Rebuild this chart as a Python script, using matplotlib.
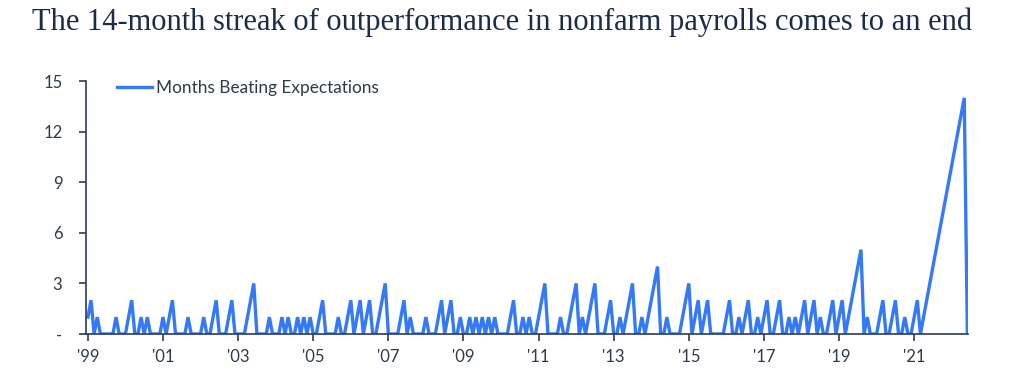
import matplotlib
matplotlib.use("Agg")
import matplotlib.pyplot as plt
import numpy as np

title = "The 14-month streak of outperformance in nonfarm payrolls comes to an end"
series_name = "Months Beating Expectations"

# Consecutive months beating expectations, monthly from Jan 1999 (one row per year)
y1999 = [1, 2, 0, 1, 0, 0, 0, 0, 0, 1, 0, 0]
y2000 = [0, 1, 2, 0, 0, 1, 0, 1, 0, 0, 0, 0]
y2001 = [1, 0, 1, 2, 0, 0, 0, 0, 1, 0, 0, 0]
y2002 = [0, 1, 0, 0, 1, 2, 0, 0, 0, 1, 2, 0]
y2003 = [0, 0, 0, 1, 2, 3, 0, 0, 0, 0, 1, 0]
y2004 = [0, 0, 1, 0, 1, 0, 0, 1, 0, 1, 0, 1]
y2005 = [0, 0, 1, 2, 0, 0, 0, 0, 1, 0, 0, 1]
y2006 = [2, 0, 1, 2, 0, 1, 2, 0, 0, 1, 2, 3]
y2007 = [0, 0, 0, 0, 1, 2, 0, 1, 0, 0, 0, 0]
y2008 = [1, 0, 0, 0, 1, 2, 0, 1, 2, 0, 0, 1]
y2009 = [0, 0, 1, 0, 1, 0, 1, 0, 1, 0, 1, 0]
y2010 = [0, 0, 0, 1, 2, 0, 0, 1, 0, 1, 0, 0]
y2011 = [1, 2, 3, 0, 0, 0, 0, 1, 0, 0, 1, 2]
y2012 = [3, 0, 1, 0, 1, 2, 3, 0, 0, 0, 1, 2]
y2013 = [0, 0, 1, 0, 1, 2, 3, 0, 0, 1, 0, 1]
y2014 = [2, 3, 4, 0, 0, 1, 0, 0, 0, 0, 1, 2]
y2015 = [3, 0, 1, 2, 0, 1, 2, 0, 0, 0, 0, 0]
y2016 = [1, 2, 0, 0, 1, 0, 1, 2, 0, 0, 1, 0]
y2017 = [1, 2, 0, 0, 1, 2, 0, 0, 1, 0, 1, 0]
y2018 = [1, 2, 0, 1, 2, 0, 1, 0, 0, 1, 2, 0]
y2019 = [1, 2, 0, 1, 2, 3, 4, 5, 0, 1, 0, 0]
y2020 = [0, 1, 2, 0, 0, 1, 2, 0, 0, 1, 0, 0]
y2021 = [1, 2, 0, 1, 2, 3, 4, 5, 6, 7, 8, 9]
y2022 = [10, 11, 12, 13, 14, 0]

years = [y1999, y2000, y2001, y2002, y2003, y2004, y2005, y2006, y2007, y2008,
         y2009, y2010, y2011, y2012, y2013, y2014, y2015, y2016, y2017, y2018,
         y2019, y2020, y2021, y2022]
values = [v for yr in years for v in yr]
months = np.arange(len(values))

tick_years = [1999, 2001, 2003, 2005, 2007, 2009, 2011, 2013, 2015, 2017, 2019, 2021]
tick_labels = ["'99", "'01", "'03", "'05", "'07", "'09", "'11", "'13", "'15", "'17", "'19", "'21"]
y_ticks = [0, 3, 6, 9, 12, 15]
y_labels = ["-", "3", "6", "9", "12", "15"]

line_color = "#3479F7"
axis_color = "#2d3b55"
text_color = "#2f3a4d"

fig = plt.figure(figsize=(10.24, 3.8), dpi=100)
ax = fig.add_axes([86 / 1024, 1 - 334 / 380, (968 - 86) / 1024, (334 - 81) / 380])

ax.plot(months, values, color=line_color, lw=2.4, solid_joinstyle="miter",
        label=series_name)

ax.set_xlim(-0.6, len(values) - 0.8)
ax.set_ylim(0, 15)
ax.set_xticks([12 * (y - 1999) for y in tick_years])
ax.set_xticklabels(tick_labels)
ax.set_yticks(y_ticks)
ax.set_yticklabels(y_labels)

for s in ["top", "right"]:
    ax.spines[s].set_visible(False)
for s in ["left", "bottom"]:
    ax.spines[s].set_color(axis_color)
    ax.spines[s].set_linewidth(1.2)

ax.tick_params(axis="y", direction="out", length=5, width=1.2, color=axis_color,
               pad=12, labelsize=12, labelcolor=text_color)
ax.tick_params(axis="x", direction="out", length=5, width=1.2, color=axis_color,
               pad=6, labelsize=12, labelcolor=text_color)
for lab in ax.get_xticklabels() + ax.get_yticklabels():
    lab.set_family("Lato")

leg = ax.legend(loc="center left", bbox_to_anchor=(0.035, 0.972), frameon=False,
                borderpad=0, borderaxespad=0, handlelength=2.05, handletextpad=0.2,
                prop={"family": "Lato", "size": 12.4})
for t in leg.get_texts():
    t.set_color(text_color)

fig.text(32 / 1024, 1 - 22 / 380, title, family="Liberation Serif", fontsize=22,
         color="#1c2b4a", va="center", ha="left")

fig.savefig("out.png", dpi=100)
